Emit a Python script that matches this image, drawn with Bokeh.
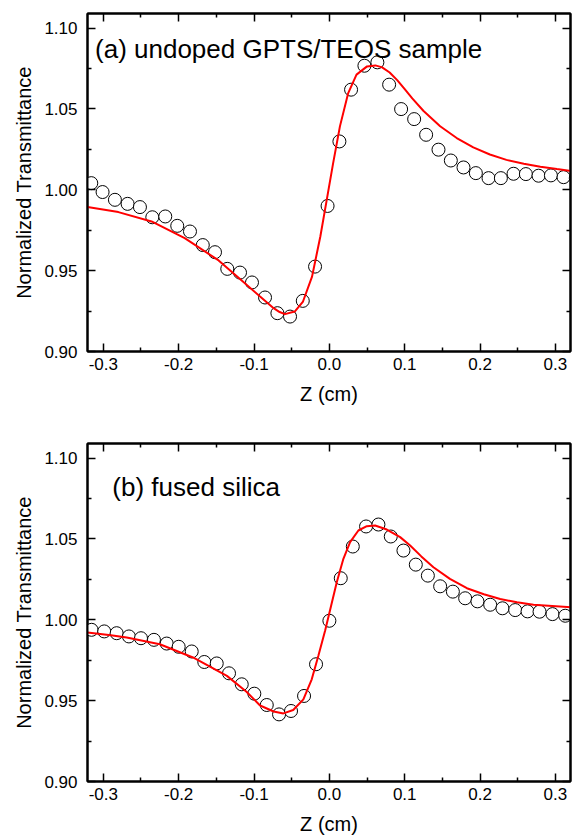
import math
from bokeh.plotting import figure
from bokeh.layouts import column
from bokeh.models import (FixedTicker, LinearAxis, Range1d, Label, CustomLabelingPolicy,
                          CustomJSTickFormatter)
from bokeh.embed import file_html
from bokeh.resources import INLINE

# ---------------- data ----------------
# (a) undoped GPTS/TEOS sample - measured points
a_z = [-0.316, -0.301, -0.2846, -0.2678, -0.2514, -0.235, -0.2178, -0.2019, -0.185, -0.168,
       -0.1518, -0.1355, -0.1186, -0.1027, -0.0854, -0.069, -0.0522, -0.0353, -0.019, -0.0024,
       0.0133, 0.0288, 0.0465, 0.0637, 0.0793, 0.0952, 0.1125, 0.1284, 0.1448, 0.1612,
       0.178, 0.1944, 0.2112, 0.2276, 0.2444, 0.2608, 0.2776, 0.294, 0.3108, 0.327]
a_t = [1.0041, 0.9986, 0.9938, 0.9913, 0.9893, 0.983, 0.9835, 0.9777, 0.9742, 0.9658,
       0.9614, 0.9511, 0.9488, 0.9427, 0.9334, 0.9237, 0.9216, 0.9313, 0.9525, 0.990,
       1.0299, 1.0619, 1.0767, 1.0788, 1.065, 1.0499, 1.0437, 1.034, 1.0248, 1.0181,
       1.0138, 1.0103, 1.0072, 1.0072, 1.0099, 1.0097, 1.0087, 1.0089, 1.0078, 1.0072]
# (a) fitted curve
a_fit_z = [-0.321, -0.280, -0.236, -0.192, -0.147, -0.119, -0.092, -0.074, -0.066, -0.059,
           -0.046, -0.035, -0.023, -0.012, -0.0035, 0.005, 0.014, 0.025, 0.036, 0.050,
           0.061, 0.070, 0.080, 0.090, 0.100, 0.110, 0.125, 0.147, 0.169, 0.191,
           0.213, 0.235, 0.258, 0.280, 0.302, 0.322]
a_fit_t = [0.9893, 0.9862, 0.9804, 0.9701, 0.9563, 0.9450, 0.9340, 0.9268, 0.9244, 0.9231,
           0.9247, 0.9309, 0.9463, 0.9711, 0.9938, 1.0165, 1.0392, 1.0598, 1.0712, 1.0763,
           1.0769, 1.0757, 1.0725, 1.0678, 1.0622, 1.0565, 1.0487, 1.0393, 1.0320, 1.0262,
           1.0218, 1.0185, 1.0161, 1.0142, 1.0128, 1.0116]

# (b) fused silica - measured points
b_z = [-0.3156, -0.2988, -0.2823, -0.266, -0.250, -0.2328, -0.2159, -0.200, -0.1827, -0.166,
       -0.1495, -0.1332, -0.1163, -0.0996, -0.0831, -0.0668, -0.0509, -0.0336, -0.0177, 0.0,
       0.0151, 0.0311, 0.0487, 0.0651, 0.0815, 0.0983, 0.1147, 0.1307, 0.147, 0.1639,
       0.1802, 0.1965, 0.2134, 0.2297, 0.2466, 0.263, 0.2789, 0.2961, 0.313]
b_t = [0.9938, 0.9928, 0.9917, 0.9897, 0.9886, 0.9876, 0.9853, 0.9833, 0.9804, 0.9739,
       0.973, 0.9669, 0.9601, 0.9543, 0.9473, 0.9415, 0.9436, 0.9529, 0.9725, 0.9994,
       1.0257, 1.0453, 1.0577, 1.0589, 1.0515, 1.0428, 1.0341, 1.0273, 1.0207, 1.0174,
       1.0133, 1.0114, 1.0093, 1.0071, 1.006, 1.0052, 1.005, 1.0035, 1.0025]
# (b) fitted curve
b_fit_z = [-0.321, -0.290, -0.269, -0.225, -0.181, -0.136, -0.110, -0.092, -0.074, -0.061,
           -0.048, -0.0345, -0.0234, -0.0146, -0.0057, 0.0023, 0.0098, 0.0186, 0.0275, 0.0385,
           0.0497, 0.0607, 0.0762, 0.0939, 0.1072, 0.122, 0.1381, 0.160, 0.1825, 0.205,
           0.2267, 0.249, 0.2709, 0.3223]
b_fit_t = [0.9922, 0.9905, 0.9891, 0.9849, 0.9767, 0.9653, 0.9555, 0.9470, 0.9433, 0.9421,
           0.9442, 0.9508, 0.9632, 0.9777, 0.9932, 1.0087, 1.0232, 1.0377, 1.0480, 1.0552,
           1.0579, 1.0583, 1.0558, 1.0511, 1.0459, 1.0392, 1.0325, 1.0253, 1.0195, 1.0158,
           1.0128, 1.0108, 1.0093, 1.0077]

x_ticks = [-0.3, -0.2, -0.1, 0.0, 0.1, 0.2, 0.3]
x_tick_labels = ["-0.3", "-0.2", "-0.1", "0.0", "0.1", "0.2", "0.3"]
x_minor = [-0.35, -0.25, -0.15, -0.05, 0.05, 0.15, 0.25, 0.35]
y_ticks = [0.90, 0.95, 1.00, 1.05, 1.10]
y_tick_labels = ["0.90", "0.95", "1.00", "1.05", "1.10"]
y_minor = [0.925, 0.975, 1.025, 1.075]

x_label = "Z (cm)"
y_label = "Normalized Transmittance"
label_a = "(a) undoped GPTS/TEOS sample"
label_b = "(b) fused silica"

FONT = "Liberation Sans"

HIDE_ALL = "for (const i of indices) { indices.unset(i) }\nreturn indices"


def style_axis(ax, xdir, show_labels):
    ax.ticker = FixedTicker(ticks=x_ticks if xdir else y_ticks,
                            minor_ticks=x_minor if xdir else y_minor)
    ax.axis_line_color = "black"
    ax.axis_line_width = 2
    ax.major_tick_in = 8
    ax.major_tick_out = 0
    ax.minor_tick_in = 4
    ax.minor_tick_out = 0
    ax.major_tick_line_color = "black"
    ax.minor_tick_line_color = "black"
    ax.major_tick_line_width = 1.5
    ax.minor_tick_line_width = 1.5
    ax.major_label_text_font = FONT
    ax.major_label_text_font_size = "17px"
    ax.major_label_text_color = "black"
    if show_labels:
        ax.major_label_overrides = dict(zip(x_ticks, x_tick_labels)) if xdir else dict(zip(y_ticks, y_tick_labels))
        ax.major_label_standoff = 6 if xdir else 10
        ax.axis_label = x_label if xdir else y_label
        ax.axis_label_text_font = FONT
        ax.axis_label_text_font_size = "20px"
        ax.axis_label_text_font_style = "normal"
        ax.axis_label_text_color = "black"
        ax.axis_label_standoff = 10 if xdir else 6
    else:
        # frame-side axis: ticks only, no labels and no reserved label space
        ax.formatter = CustomJSTickFormatter(code="return ''")
        ax.major_label_policy = CustomLabelingPolicy(code=HIDE_ALL)
        ax.major_label_standoff = 0
        if xdir:
            ax.major_label_orientation = math.pi / 2


def make_panel(zd, td, zf, tf, text, tx, ty, h, top_b, bot_b):
    p = figure(width=576, height=h, output_backend="svg", toolbar_location=None,
               x_range=Range1d(-0.321, 0.320), y_range=Range1d(0.90, 1.109),
               min_border_left=87, min_border_right=6,
               min_border_top=top_b, min_border_bottom=bot_b)
    p.outline_line_color = "black"
    p.outline_line_width = 2
    p.xgrid.visible = False
    p.ygrid.visible = False
    p.background_fill_color = "white"
    p.border_fill_color = "white"

    style_axis(p.xaxis[0], True, True)
    style_axis(p.yaxis[0], False, True)
    top = LinearAxis()
    style_axis(top, True, False)
    p.add_layout(top, "above")
    right = LinearAxis()
    style_axis(right, False, False)
    p.add_layout(right, "right")

    p.scatter(zd, td, marker="circle", size=13, fill_color="white",
              line_color="black", line_width=1)
    p.line(zf, tf, line_color="#ff0000", line_width=2)

    p.add_layout(Label(x=tx, y=ty, text=text, text_font=FONT, text_font_size="26px",
                       text_color="black", text_baseline="alphabetic"))
    return p


p1 = make_panel(a_z, a_t, a_fit_z, a_fit_t, label_a, -0.311, 1.087, 411, 13, 60)
p2 = make_panel(b_z, b_t, b_fit_z, b_fit_t, label_b, -0.288, 1.082, 426, 32, 56)

layout = column(p1, p2, spacing=0)
open("out.html", "w").write(file_html(layout, INLINE))
